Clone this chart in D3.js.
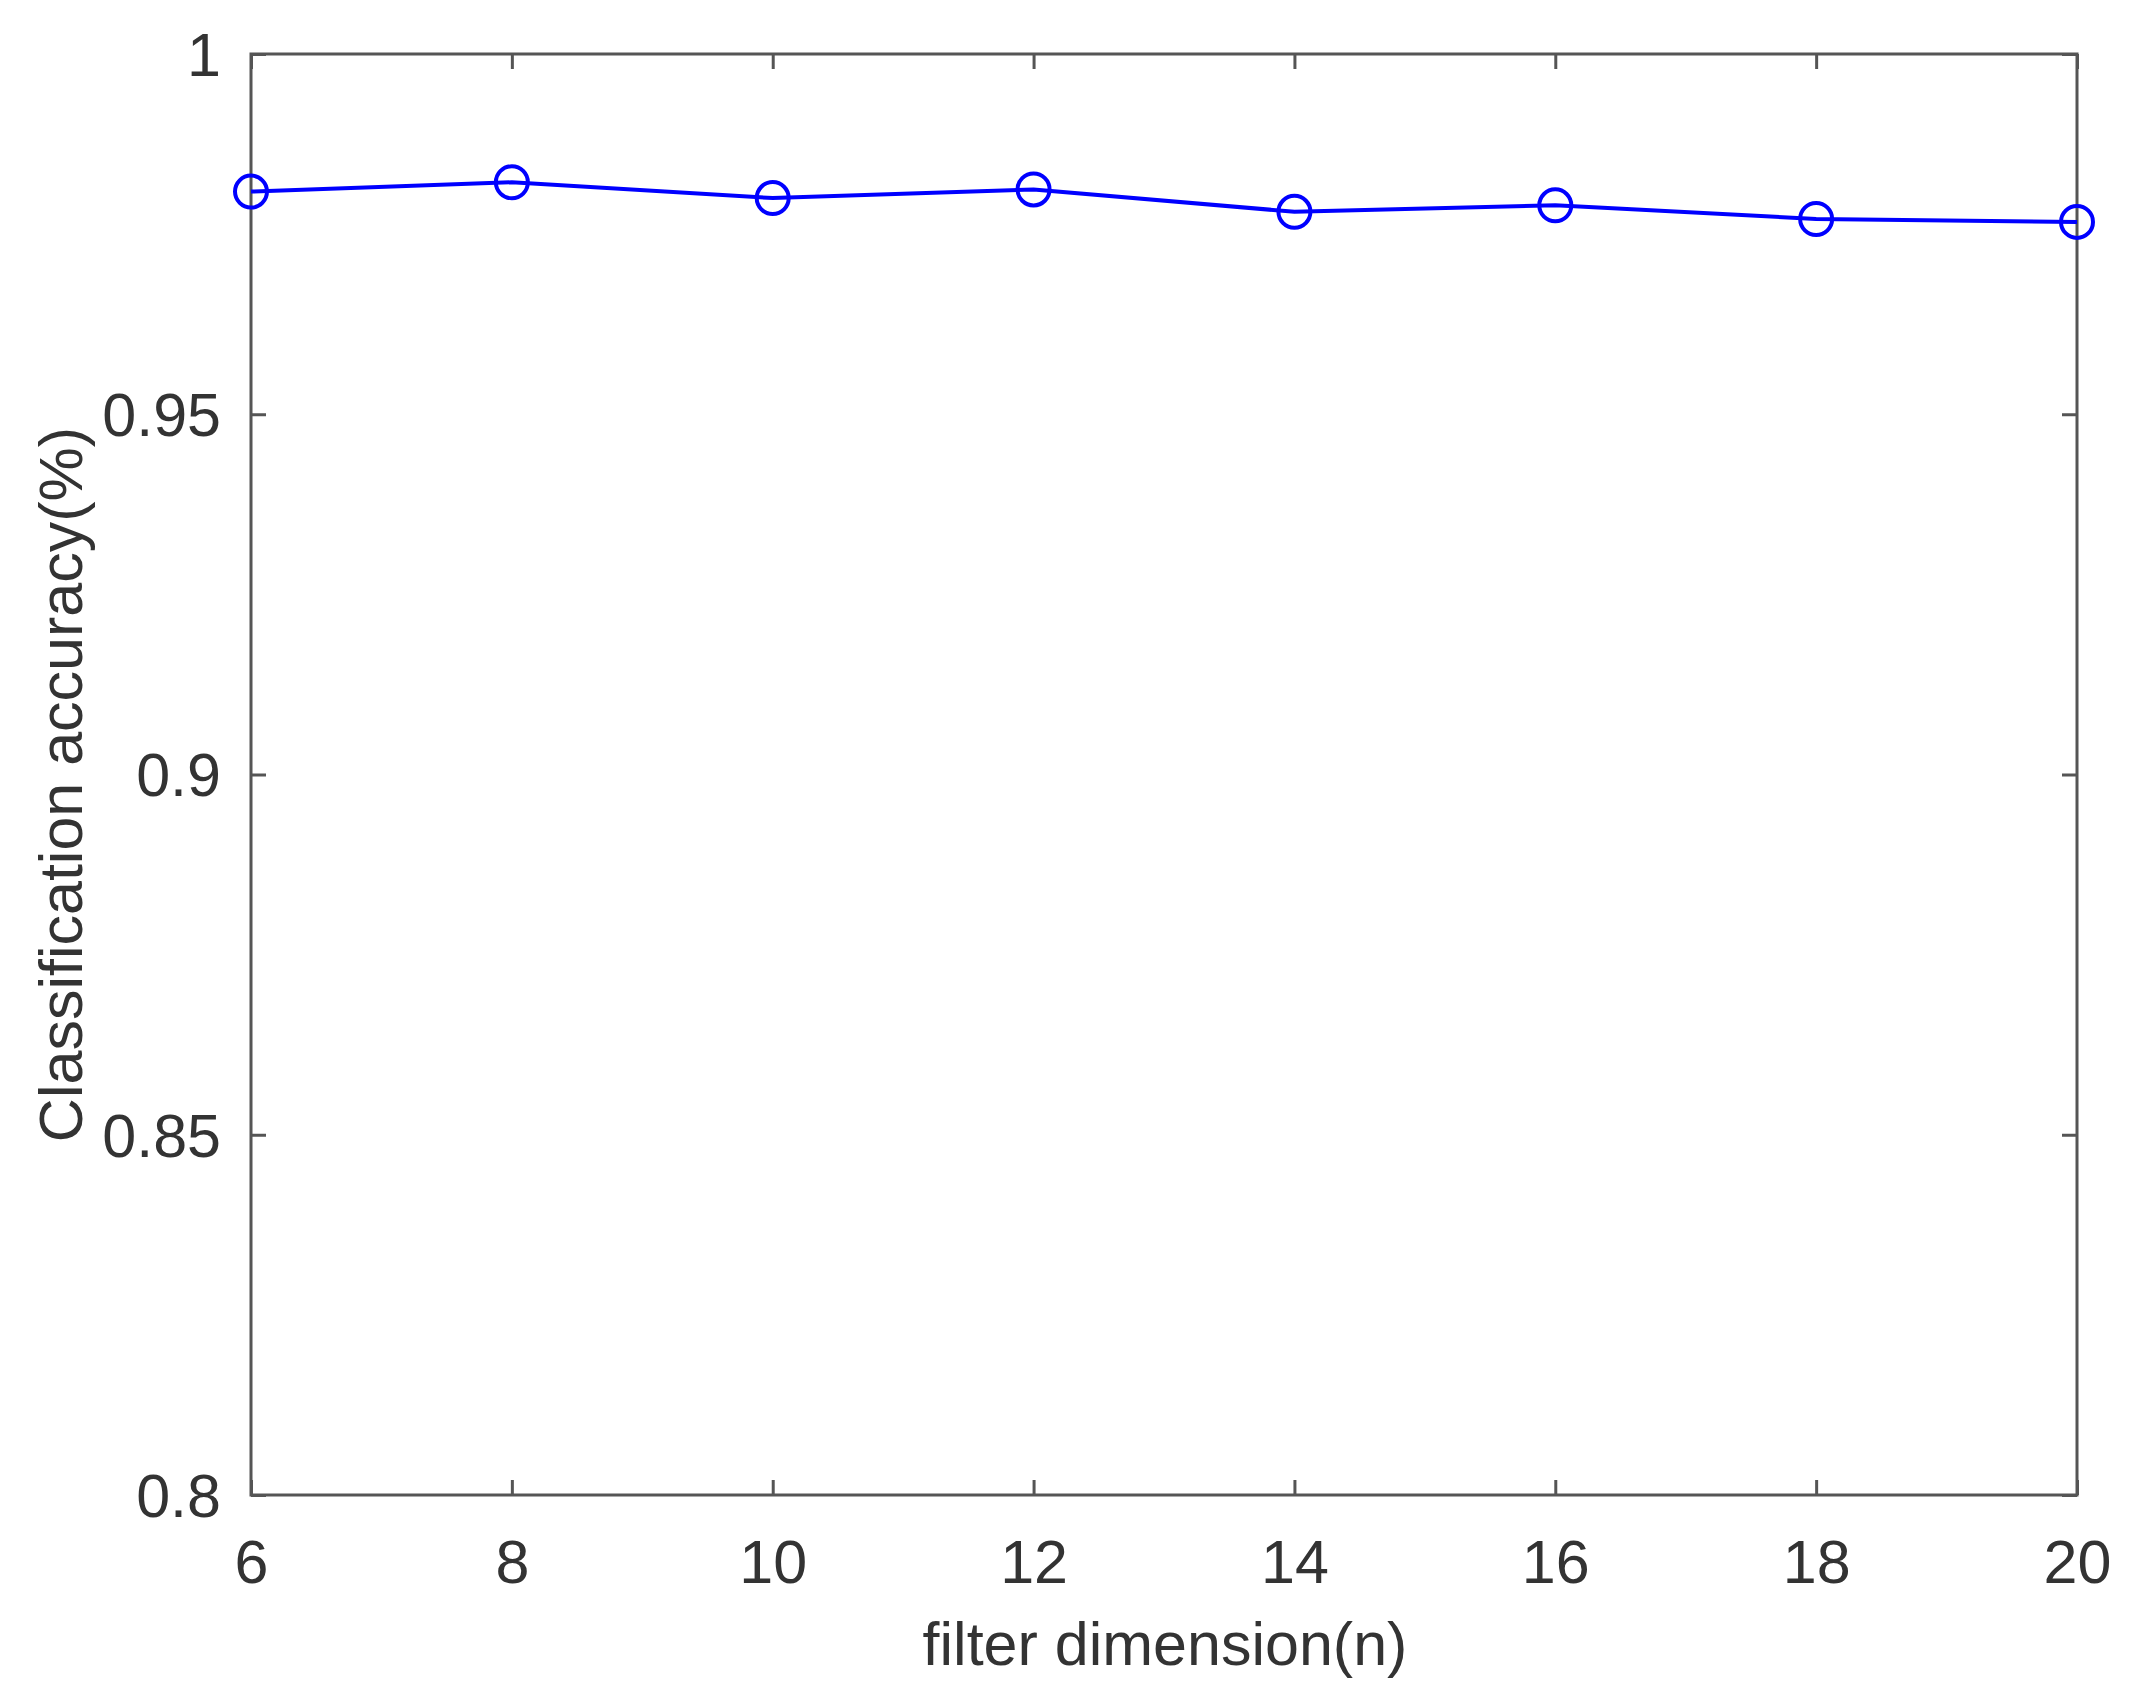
<!DOCTYPE html>
<html><head><meta charset="utf-8">
<script src="https://cdn.jsdelivr.net/npm/d3@7"></script>
<style>html,body{margin:0;padding:0;background:#fff;}</style>
</head><body>
<script>
const filterDims = [6, 8, 10, 12, 14, 16, 18, 20];
const accuracy = [0.9809, 0.9822, 0.9800, 0.9812, 0.9781, 0.9790, 0.9771, 0.9767];
const xTicks = [6, 8, 10, 12, 14, 16, 18, 20];
const yTicks = [0.8, 0.85, 0.9, 0.95, 1];
const xLabel = "filter dimension(n)";
const yLabel = "Classification accuracy(%)";

const W = 2131, H = 1693;
const m = {left: 251, right: W - 2077, top: 54, bottom: H - 1495};
const svg = d3.select("body").append("svg").attr("width", W).attr("height", H)
  .style("font-family", "'Liberation Sans', Arial, sans-serif");

const x = d3.scaleLinear().domain([6, 20]).range([m.left, W - m.right]);
const y = d3.scaleLinear().domain([0.8, 1]).range([H - m.bottom, m.top]);

const axisColor = "#555";
const textColor = "#333";
const fs = 61;
const tickLen = 15;

// box
svg.append("rect").attr("x", x(6)).attr("y", y(1)).attr("width", x(20) - x(6)).attr("height", y(0.8) - y(1))
  .attr("fill", "none").attr("stroke", axisColor).attr("stroke-width", 3);

const fmtY = d => d3.format("")(d);
const gB = svg.append("g").attr("transform", `translate(0,${y(0.8)})`)
  .call(d3.axisBottom(x).tickValues(xTicks).tickSize(-tickLen).tickPadding(tickLen + 22).tickFormat(d3.format("d")));
const gT = svg.append("g").attr("transform", `translate(0,${y(1)})`)
  .call(d3.axisTop(x).tickValues(xTicks).tickSize(-tickLen).tickFormat(""));
const gL = svg.append("g").attr("transform", `translate(${x(6)},0)`)
  .call(d3.axisLeft(y).tickValues(yTicks).tickSize(-tickLen).tickPadding(30).tickFormat(fmtY));
const gR = svg.append("g").attr("transform", `translate(${x(20)},0)`)
  .call(d3.axisRight(y).tickValues(yTicks).tickSize(-tickLen).tickFormat(""));
[gB, gT, gL, gR].forEach(g => {
  g.select(".domain").remove();
  g.selectAll(".tick line").attr("stroke", axisColor).attr("stroke-width", 3);
  g.selectAll("text").attr("fill", textColor).style("font-size", fs + "px")
    .style("font-family", "'Liberation Sans', Arial, sans-serif");
});
gB.selectAll("text").attr("dy", "0.35em").attr("y", 0).attr("transform", `translate(0,${1562 - y(0.8)})`);
gL.selectAll("text").attr("dy", "0.35em");

// line
const line = d3.line().x((d, i) => x(filterDims[i])).y(d => y(d));
svg.append("path").datum(accuracy).attr("d", line).attr("fill", "none")
  .attr("stroke", "#0000ff").attr("stroke-width", 4);
svg.selectAll("circle.m").data(accuracy).enter().append("circle")
  .attr("cx", (d, i) => x(filterDims[i])).attr("cy", d => y(d)).attr("r", 16)
  .attr("fill", "none").attr("stroke", "#0000ff").attr("stroke-width", 4);

// labels
svg.append("text").attr("x", (x(6) + x(20)) / 2 + 1).attr("y", 1644).attr("dy", "0.35em")
  .attr("text-anchor", "middle").attr("fill", textColor).style("font-size", fs + "px").text(xLabel);
svg.append("text").attr("transform", `translate(61,${(y(0.8) + y(1)) / 2 + 10}) rotate(-90)`).attr("dy", "0.35em")
  .attr("text-anchor", "middle").attr("fill", textColor).style("font-size", fs + "px").text(yLabel);
</script>
</body></html>
